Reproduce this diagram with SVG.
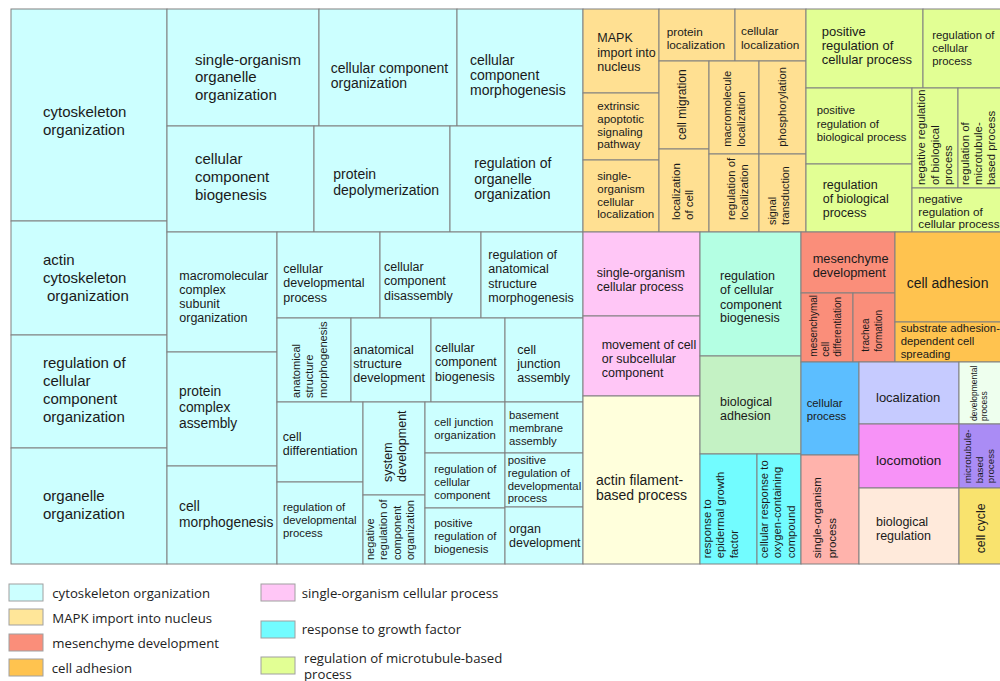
<svg xmlns="http://www.w3.org/2000/svg" width="1000" height="681" viewBox="0 0 1000 681">
<style>
.b{stroke:#808080;stroke-width:1}
.t{font-family:"Liberation Sans",Arial,sans-serif;fill:#1a1a1a}
.lg{font-family:"Open Sans",sans-serif;font-size:13.2px;fill:#222}
.lb{stroke:#a0a0a0;stroke-width:1}
.cy{fill:#ccffff}.or{fill:#ffe092}.yg{fill:#e2ff94}.pk{fill:#ffc6f6}.mn{fill:#b4ffe3}
.lgr{fill:#c4f2c4}.bc{fill:#72fcff}.ly{fill:#ffffdc}.sa{fill:#fa8e7a}.ad{fill:#ffc34f}
.bl{fill:#5cbeff}.ls{fill:#ffb3ac}.lv{fill:#c6cbff}.dv{fill:#eeffee}.mg{fill:#f792f7}
.pu{fill:#aa8cf5}.pe{fill:#ffeadb}.ye{fill:#f9e36e}
</style>
<rect width="1000" height="681" fill="#ffffff"/>
<g id="treemap">
<g id="n01"><rect class="b cy" x="11" y="9" width="156" height="212"/><text class="t" font-size="15"><tspan x="43" y="117">cytoskeleton</tspan><tspan x="43" y="134.5">organization</tspan></text></g>
<g id="n02"><rect class="b cy" x="11" y="221" width="156" height="114"/><text class="t" font-size="15"><tspan x="43" y="265">actin</tspan><tspan x="43" y="283">cytoskeleton</tspan><tspan x="47" y="301">organization</tspan></text></g>
<g id="n03"><rect class="b cy" x="11" y="335" width="156" height="113"/><text class="t" font-size="15"><tspan x="43" y="368">regulation of</tspan><tspan x="43" y="386">cellular</tspan><tspan x="43" y="404">component</tspan><tspan x="43" y="422">organization</tspan></text></g>
<g id="n04"><rect class="b cy" x="11" y="448" width="156" height="116"/><text class="t" font-size="15"><tspan x="43" y="501">organelle</tspan><tspan x="43" y="518.5">organization</tspan></text></g>
<g id="n05"><rect class="b cy" x="167" y="9" width="152" height="117"/><text class="t" font-size="15"><tspan x="195" y="64.5">single-organism</tspan><tspan x="195" y="82">organelle</tspan><tspan x="195" y="99.5">organization</tspan></text></g>
<g id="n06"><rect class="b cy" x="319" y="9" width="138" height="117"/><text class="t" font-size="14"><tspan x="330.7" y="73">cellular component</tspan><tspan x="330.7" y="88">organization</tspan></text></g>
<g id="n07"><rect class="b cy" x="457" y="9" width="126" height="117"/><text class="t" font-size="14"><tspan x="470" y="65">cellular</tspan><tspan x="470" y="80">component</tspan><tspan x="470" y="95">morphogenesis</tspan></text></g>
<g id="n08"><rect class="b cy" x="167" y="126" width="147" height="106"/><text class="t" font-size="15"><tspan x="195" y="164">cellular</tspan><tspan x="195" y="182">component</tspan><tspan x="195" y="199.5">biogenesis</tspan></text></g>
<g id="n09"><rect class="b cy" x="314" y="126" width="136" height="106"/><text class="t" font-size="14"><tspan x="333.3" y="179">protein</tspan><tspan x="333.3" y="194.5">depolymerization</tspan></text></g>
<g id="n10"><rect class="b cy" x="450" y="126" width="133" height="106"/><text class="t" font-size="14"><tspan x="474.3" y="168">regulation of</tspan><tspan x="474.3" y="183.5">organelle</tspan><tspan x="474.3" y="199">organization</tspan></text></g>
<g id="n11"><rect class="b cy" x="167" y="232" width="110" height="120"/><text class="t" font-size="12.5"><tspan x="179.3" y="279.5">macromolecular</tspan><tspan x="179.3" y="293.5">complex</tspan><tspan x="179.3" y="308">subunit</tspan><tspan x="179.3" y="322">organization</tspan></text></g>
<g id="n12"><rect class="b cy" x="167" y="352" width="110" height="114"/><text class="t" font-size="13.8"><tspan x="179" y="396">protein</tspan><tspan x="179" y="412">complex</tspan><tspan x="179" y="428">assembly</tspan></text></g>
<g id="n13"><rect class="b cy" x="167" y="466" width="110" height="98"/><text class="t" font-size="13.8"><tspan x="179" y="511">cell</tspan><tspan x="179" y="527">morphogenesis</tspan></text></g>
<g id="n14"><rect class="b cy" x="277" y="232" width="103" height="86"/><text class="t" font-size="12.5"><tspan x="283.3" y="273">cellular</tspan><tspan x="283.3" y="287">developmental</tspan><tspan x="283.3" y="301.5">process</tspan></text></g>
<g id="n15"><rect class="b cy" x="380" y="232" width="101" height="86"/><text class="t" font-size="12.5"><tspan x="384" y="270.5">cellular</tspan><tspan x="384" y="285">component</tspan><tspan x="384" y="299.5">disassembly</tspan></text></g>
<g id="n16"><rect class="b cy" x="481" y="232" width="102" height="86"/><text class="t" font-size="12.5"><tspan x="488.3" y="259">regulation of</tspan><tspan x="488.3" y="273">anatomical</tspan><tspan x="488.3" y="287.5">structure</tspan><tspan x="488.3" y="302">morphogenesis</tspan></text></g>
<g id="n17"><rect class="b cy" x="277" y="318" width="74" height="84"/><text class="t" font-size="11.2" transform="translate(299.6,398) rotate(-90)"><tspan x="0" y="0">anatomical</tspan><tspan x="0" y="13.8">structure</tspan><tspan x="0" y="27.6">morphogenesis</tspan></text></g>
<g id="n18"><rect class="b cy" x="351" y="318" width="80" height="84"/><text class="t" font-size="12.5"><tspan x="353.3" y="353.5">anatomical</tspan><tspan x="353.3" y="368">structure</tspan><tspan x="353.3" y="382">development</tspan></text></g>
<g id="n19"><rect class="b cy" x="431" y="318" width="74" height="84"/><text class="t" font-size="12.5"><tspan x="435" y="352">cellular</tspan><tspan x="435" y="366">component</tspan><tspan x="435" y="380.5">biogenesis</tspan></text></g>
<g id="n20"><rect class="b cy" x="505" y="318" width="78" height="84"/><text class="t" font-size="12.5"><tspan x="517.3" y="353.5">cell</tspan><tspan x="517.3" y="368">junction</tspan><tspan x="517.3" y="382">assembly</tspan></text></g>
<g id="n21"><rect class="b cy" x="277" y="402" width="86" height="80"/><text class="t" font-size="12.5"><tspan x="282.7" y="441">cell</tspan><tspan x="282.7" y="455">differentiation</tspan></text></g>
<g id="n22"><rect class="b cy" x="277" y="482" width="86" height="82"/><text class="t" font-size="11.3"><tspan x="283" y="511">regulation of</tspan><tspan x="283" y="524">developmental</tspan><tspan x="283" y="537">process</tspan></text></g>
<g id="n23"><rect class="b cy" x="363" y="402" width="62" height="93"/><text class="t" font-size="12.5" transform="translate(391.6,482) rotate(-90)"><tspan x="0" y="0">system</tspan><tspan x="0" y="14">development</tspan></text></g>
<g id="n24"><rect class="b cy" x="363" y="495" width="62" height="69"/><text class="t" font-size="11" transform="translate(374,560) rotate(-90)"><tspan x="0" y="0">negative</tspan><tspan x="0" y="13.4">regulation of</tspan><tspan x="0" y="26.8">component</tspan><tspan x="0" y="40.2">organization</tspan></text></g>
<g id="n25"><rect class="b cy" x="425" y="402" width="80" height="51"/><text class="t" font-size="11.3"><tspan x="434.3" y="425.5">cell junction</tspan><tspan x="434.3" y="438.5">organization</tspan></text></g>
<g id="n26"><rect class="b cy" x="425" y="453" width="80" height="55"/><text class="t" font-size="11.3"><tspan x="434.3" y="472.5">regulation of</tspan><tspan x="434.3" y="485.5">cellular</tspan><tspan x="434.3" y="498.5">component</tspan></text></g>
<g id="n27"><rect class="b cy" x="425" y="508" width="80" height="56"/><text class="t" font-size="11.3"><tspan x="434.3" y="527">positive</tspan><tspan x="434.3" y="540">regulation of</tspan><tspan x="434.3" y="552.5">biogenesis</tspan></text></g>
<g id="n28"><rect class="b cy" x="505" y="402" width="78" height="51"/><text class="t" font-size="11.3"><tspan x="509" y="418.5">basement</tspan><tspan x="509" y="431.5">membrane</tspan><tspan x="509" y="445">assembly</tspan></text></g>
<g id="n29"><rect class="b cy" x="505" y="453" width="78" height="54"/><text class="t" font-size="11.3"><tspan x="507.7" y="463.5">positive</tspan><tspan x="507.7" y="476.5">regulation of</tspan><tspan x="507.7" y="489.5">developmental</tspan><tspan x="507.7" y="502">process</tspan></text></g>
<g id="n30"><rect class="b cy" x="505" y="507" width="78" height="57"/><text class="t" font-size="12.5"><tspan x="509" y="533">organ</tspan><tspan x="509" y="547">development</tspan></text></g>

<g id="n31"><rect class="b or" x="583" y="9" width="76" height="84"/><text class="t" font-size="12.5"><tspan x="597.3" y="42">MAPK</tspan><tspan x="597.3" y="56.5">import into</tspan><tspan x="597.3" y="71">nucleus</tspan></text></g>
<g id="n32"><rect class="b or" x="583" y="93" width="76" height="67"/><text class="t" font-size="11.5"><tspan x="597.3" y="110">extrinsic</tspan><tspan x="597.3" y="123">apoptotic</tspan><tspan x="597.3" y="135.5">signaling</tspan><tspan x="597.3" y="148">pathway</tspan></text></g>
<g id="n33"><rect class="b or" x="583" y="160" width="76" height="72"/><text class="t" font-size="11.5"><tspan x="597.3" y="179.5">single-</tspan><tspan x="597.3" y="192.5">organism</tspan><tspan x="597.3" y="205.5">cellular</tspan><tspan x="597.3" y="218">localization</tspan></text></g>
<g id="n34"><rect class="b or" x="659" y="9" width="76" height="52"/><text class="t" font-size="11.8"><tspan x="666.7" y="36">protein</tspan><tspan x="666.7" y="49">localization</tspan></text></g>
<g id="n35"><rect class="b or" x="735" y="9" width="71" height="52"/><text class="t" font-size="11.8"><tspan x="741" y="35">cellular</tspan><tspan x="741" y="48.5">localization</tspan></text></g>
<g id="n36"><rect class="b or" x="659" y="61" width="50" height="88"/><text class="t" font-size="12" transform="translate(686.4,140) rotate(-90)"><tspan x="0" y="0">cell migration</tspan></text></g>
<g id="n37"><rect class="b or" x="659" y="149" width="50" height="83"/><text class="t" font-size="11.5" transform="translate(679.7,220) rotate(-90)"><tspan x="0" y="0">localization</tspan><tspan x="0" y="13.3">of cell</tspan></text></g>
<g id="n38"><rect class="b or" x="709" y="61" width="50" height="93"/><text class="t" font-size="11.2" transform="translate(731.2,146.7) rotate(-90)"><tspan x="0" y="0">macromolecule</tspan><tspan x="0" y="13.4">localization</tspan></text></g>
<g id="n39"><rect class="b or" x="709" y="154" width="50" height="78"/><text class="t" font-size="11.3" transform="translate(734.6,220) rotate(-90)"><tspan x="0" y="0">regulation of</tspan><tspan x="0" y="13.3">localization</tspan></text></g>
<g id="n40"><rect class="b or" x="759" y="61" width="47" height="93"/><text class="t" font-size="11.3" transform="translate(786.2,146.7) rotate(-90)"><tspan x="0" y="0">phosphorylation</tspan></text></g>
<g id="n41"><rect class="b or" x="759" y="154" width="47" height="78"/><text class="t" font-size="10.8" transform="translate(776.1,225) rotate(-90)"><tspan x="0" y="0">signal</tspan><tspan x="0" y="13.4">transduction</tspan></text></g>

<g id="n42"><rect class="b yg" x="806" y="9" width="117" height="79"/><text class="t" font-size="13"><tspan x="821.7" y="35.5">positive</tspan><tspan x="821.7" y="50">regulation of</tspan><tspan x="821.7" y="64">cellular process</tspan></text></g>
<g id="n43"><rect class="b yg" x="923" y="9" width="78" height="79"/><text class="t" font-size="11.3"><tspan x="932.3" y="38.5">regulation of</tspan><tspan x="932.3" y="51.5">cellular</tspan><tspan x="932.3" y="65">process</tspan></text></g>
<g id="n44"><rect class="b yg" x="806" y="88" width="106" height="76"/><text class="t" font-size="11.3"><tspan x="816.7" y="114">positive</tspan><tspan x="816.7" y="127.5">regulation of</tspan><tspan x="816.7" y="141">biological process</tspan></text></g>
<g id="n45"><rect class="b yg" x="806" y="164" width="106" height="68"/><text class="t" font-size="12.5"><tspan x="822.7" y="188.5">regulation</tspan><tspan x="822.7" y="203">of biological</tspan><tspan x="822.7" y="217">process</tspan></text></g>
<g id="n46"><rect class="b yg" x="912" y="88" width="46" height="100"/><text class="t" font-size="11.3" transform="translate(925.2,185) rotate(-90)"><tspan x="0" y="0">negative regulation</tspan><tspan x="0" y="13.4">of biological</tspan><tspan x="0" y="26.7">process</tspan></text></g>
<g id="n47"><rect class="b yg" x="958" y="88" width="43" height="100"/><text class="t" font-size="11.4" transform="translate(968.6,185) rotate(-90)"><tspan x="0" y="0">regulation of</tspan><tspan x="0" y="13.3">microtubule-</tspan><tspan x="0" y="26.6">based process</tspan></text></g>
<g id="n48"><rect class="b yg" x="912" y="188" width="89" height="44"/><text class="t" font-size="11.7"><tspan x="918.3" y="203">negative</tspan><tspan x="918.3" y="215.5">regulation of</tspan><tspan x="918.3" y="228">cellular process</tspan></text></g>

<g id="n49"><rect class="b pk" x="583" y="232" width="117" height="84"/><text class="t" font-size="12.5"><tspan x="596.7" y="277">single-organism</tspan><tspan x="596.7" y="290.5">cellular process</tspan></text></g>
<g id="n50"><rect class="b pk" x="583" y="316" width="117" height="80"/><text class="t" font-size="12.5"><tspan x="601.7" y="348.5">movement of cell</tspan><tspan x="601.7" y="363">or subcellular</tspan><tspan x="601.7" y="377">component</tspan></text></g>
<g id="n51"><rect class="b ly" x="583" y="396" width="117" height="168"/><text class="t" font-size="14"><tspan x="596" y="484.5">actin filament-</tspan><tspan x="596" y="500">based process</tspan></text></g>
<g id="n52"><rect class="b mn" x="700" y="232" width="101" height="124"/><text class="t" font-size="12.5"><tspan x="720" y="279.5">regulation</tspan><tspan x="720" y="294">of cellular</tspan><tspan x="720" y="308.5">component</tspan><tspan x="720" y="322">biogenesis</tspan></text></g>
<g id="n53"><rect class="b lgr" x="700" y="356" width="101" height="98"/><text class="t" font-size="12.5"><tspan x="720" y="405.5">biological</tspan><tspan x="720" y="419.5">adhesion</tspan></text></g>
<g id="n54"><rect class="b bc" x="700" y="454" width="57" height="110"/><text class="t" font-size="11.3" transform="translate(711.2,558.3) rotate(-90)"><tspan x="0" y="0">response to</tspan><tspan x="0" y="13.3">epidermal growth</tspan><tspan x="0" y="26.7">factor</tspan></text></g>
<g id="n55"><rect class="b bc" x="757" y="454" width="44" height="110"/><text class="t" font-size="11.3" transform="translate(767.9,558.3) rotate(-90)"><tspan x="0" y="0">cellular response to</tspan><tspan x="0" y="13.3">oxygen-containing</tspan><tspan x="0" y="26.7">compound</tspan></text></g>
<g id="n56"><rect class="b sa" x="801" y="232" width="94" height="61"/><text class="t" font-size="12.75"><tspan x="812.7" y="263">mesenchyme</tspan><tspan x="812.7" y="277">development</tspan></text></g>
<g id="n57"><rect class="b sa" x="801" y="293" width="52" height="69"/><text class="t" font-size="10" transform="translate(816.9,356.7) rotate(-90)"><tspan x="0" y="0">mesenchymal</tspan><tspan x="0" y="12.2">cell</tspan><tspan x="0" y="24.4">differentiation</tspan></text></g>
<g id="n58"><rect class="b sa" x="853" y="293" width="42" height="69"/><text class="t" font-size="10" transform="translate(869.3,351.7) rotate(-90)"><tspan x="0" y="0">trachea</tspan><tspan x="0" y="12.6">formation</tspan></text></g>
<g id="n59"><rect class="b ad" x="895" y="232" width="106" height="90"/><text class="t" font-size="14"><tspan x="906.7" y="287.5">cell adhesion</tspan></text></g>
<g id="n60"><rect class="b ad" x="895" y="322" width="106" height="40"/><text class="t" font-size="11.3"><tspan x="900.7" y="331.5">substrate adhesion-</tspan><tspan x="900.7" y="345">dependent cell</tspan><tspan x="900.7" y="357.5">spreading</tspan></text></g>
<g id="n61"><rect class="b bl" x="801" y="362" width="58" height="93"/><text class="t" font-size="11.3"><tspan x="806.7" y="406.5">cellular</tspan><tspan x="806.7" y="420">process</tspan></text></g>
<g id="n62"><rect class="b ls" x="801" y="455" width="58" height="109"/><text class="t" font-size="11.5" transform="translate(821.3,558.3) rotate(-90)"><tspan x="0" y="0">single-organism</tspan><tspan x="0" y="14.5">process</tspan></text></g>
<g id="n63"><rect class="b lv" x="859" y="362" width="100" height="62"/><text class="t" font-size="13"><tspan x="876" y="401.5">localization</tspan></text></g>
<g id="n64"><rect class="b dv" x="959" y="362" width="42" height="62"/><text class="t" font-size="8.5" transform="translate(976.5,421) rotate(-90)"><tspan x="0" y="0">developmental</tspan><tspan x="0" y="10">process</tspan></text></g>
<g id="n65"><rect class="b mg" x="859" y="424" width="100" height="64"/><text class="t" font-size="13.5"><tspan x="876" y="465">locomotion</tspan></text></g>
<g id="n66"><rect class="b pu" x="959" y="424" width="42" height="64"/><text class="t" font-size="9.8" transform="translate(970.9,483.3) rotate(-90)"><tspan x="0" y="0">microtubule-</tspan><tspan x="0" y="11.7">based</tspan><tspan x="0" y="23.4">process</tspan></text></g>
<g id="n67"><rect class="b pe" x="859" y="488" width="100" height="76"/><text class="t" font-size="12.5"><tspan x="876" y="526">biological</tspan><tspan x="876" y="540">regulation</tspan></text></g>
<g id="n68"><rect class="b ye" x="959" y="488" width="42" height="76"/><text class="t" font-size="12.3" transform="translate(984.9,553.3) rotate(-90)"><tspan x="0" y="0">cell cycle</tspan></text></g>
</g>
<g id="legend">
<g id="lg1"><rect class="lb" x="9" y="584" width="34" height="17" fill="#ccffff"/><text class="lg" x="52.3" y="597.5">cytoskeleton organization</text></g>
<g id="lg2"><rect class="lb" x="9" y="609" width="34" height="16" fill="#ffe699"/><text class="lg" x="52.3" y="622.5">MAPK import into nucleus</text></g>
<g id="lg3"><rect class="lb" x="9" y="634" width="34" height="17" fill="#fa8e7a"/><text class="lg" x="52.3" y="647.5">mesenchyme development</text></g>
<g id="lg4"><rect class="lb" x="9" y="659" width="34" height="17" fill="#ffc34f"/><text class="lg" x="51.7" y="672.5">cell adhesion</text></g>
<g id="lg5"><rect class="lb" x="261" y="584" width="34" height="17" fill="#ffc6f6"/><text class="lg" x="301.7" y="597.5">single-organism cellular process</text></g>
<g id="lg6"><rect class="lb" x="261" y="621" width="34" height="17" fill="#72fcff"/><text class="lg" x="301.7" y="634">response to growth factor</text></g>
<g id="lg7"><rect class="lb" x="261" y="657" width="34" height="17" fill="#e2ff94"/><text class="lg" x="304" y="662.5">regulation of microtubule-based</text><text class="lg" x="304" y="679">process</text></g>
</g>
</svg>
